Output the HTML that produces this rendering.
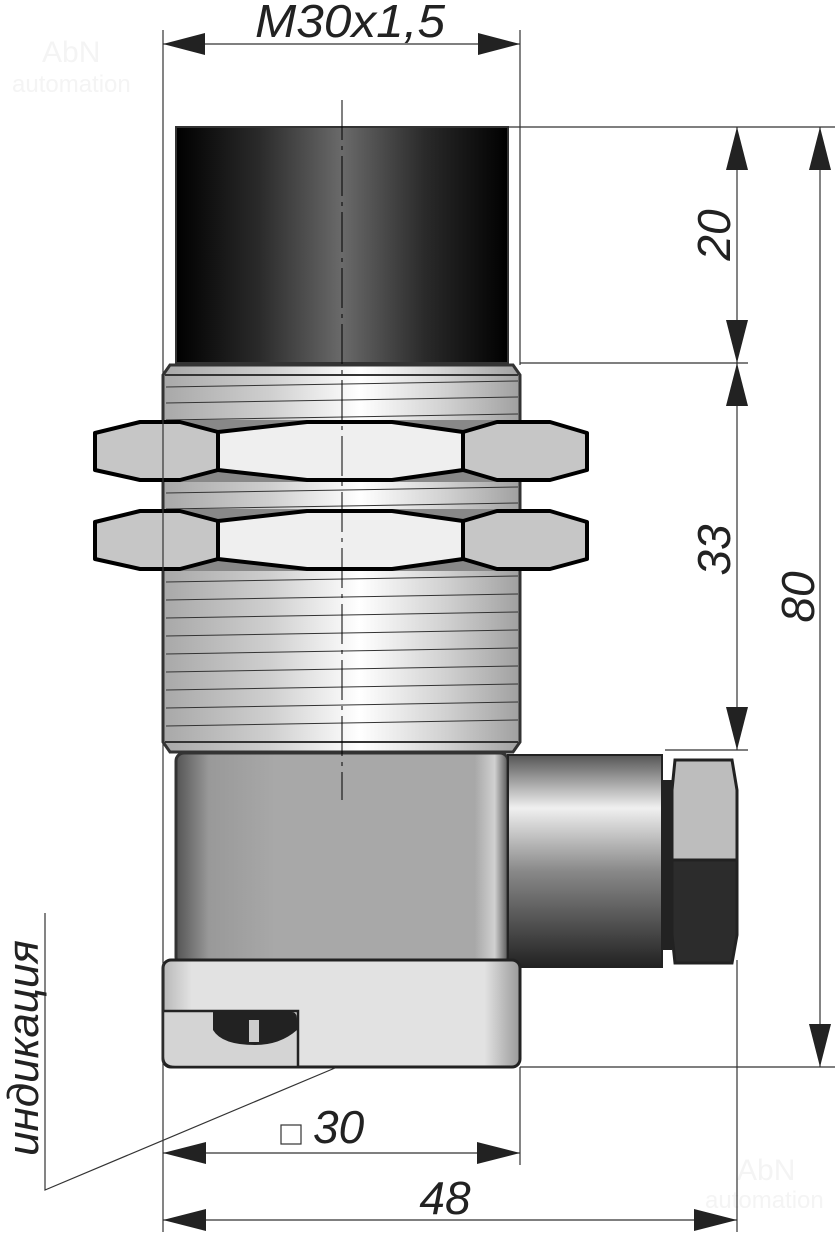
<!DOCTYPE html>
<html><head><meta charset="utf-8"><style>
html,body{margin:0;padding:0;background:#fff;}
svg{display:block;}
text{font-family:"Liberation Sans",sans-serif;font-style:italic;}
</style></head><body>
<svg width="837" height="1236" viewBox="0 0 837 1236" xmlns="http://www.w3.org/2000/svg">
<defs>
<linearGradient id="cap" x1="0" x2="1" y1="0" y2="0">
<stop offset="0" stop-color="#000"/><stop offset="0.25" stop-color="#2a2a2a"/><stop offset="0.5" stop-color="#6a6a6a"/><stop offset="0.75" stop-color="#2a2a2a"/><stop offset="1" stop-color="#000"/></linearGradient>
<linearGradient id="thr" x1="0" x2="1" y1="0" y2="0">
<stop offset="0" stop-color="#a8a8a8"/><stop offset="0.3" stop-color="#cfcfcf"/><stop offset="0.55" stop-color="#ffffff"/><stop offset="0.8" stop-color="#cfcfcf"/><stop offset="1" stop-color="#a0a0a0"/></linearGradient>
<linearGradient id="hous" x1="0" x2="1" y1="0" y2="0">
<stop offset="0" stop-color="#555"/><stop offset="0.1" stop-color="#999"/><stop offset="0.3" stop-color="#a8a8a8"/><stop offset="0.9" stop-color="#a8a8a8"/><stop offset="0.96" stop-color="#d0d0d0"/><stop offset="1" stop-color="#555"/></linearGradient>
<linearGradient id="base" x1="0" x2="1" y1="0" y2="0">
<stop offset="0" stop-color="#b8b8b8"/><stop offset="0.08" stop-color="#e2e2e2"/><stop offset="0.9" stop-color="#e2e2e2"/><stop offset="1" stop-color="#9a9a9a"/></linearGradient>
<linearGradient id="conn" x1="0" x2="0" y1="0" y2="1">
<stop offset="0" stop-color="#555"/><stop offset="0.25" stop-color="#f0f0f0"/><stop offset="0.55" stop-color="#888"/><stop offset="1" stop-color="#222"/></linearGradient>
</defs>
<text x="42" y="62" font-size="30" fill="#f4f4f4" style="font-style:normal">AbN</text>
<text x="12" y="92" font-size="24" fill="#f4f4f4" style="font-style:normal">automation</text>
<text x="737" y="1180" font-size="30" fill="#f4f4f4" style="font-style:normal">AbN</text>
<text x="705" y="1208" font-size="24" fill="#f4f4f4" style="font-style:normal">automation</text>

<rect x="176" y="127" width="332" height="236" fill="url(#cap)" stroke="#333" stroke-width="2"/>
<polygon points="170,365 513,365 520,375 520,742 513,752 170,752 163,742 163,375" fill="url(#thr)" stroke="#333" stroke-width="3"/>
<line x1="165" y1="375" x2="518" y2="375" stroke="#333" stroke-width="2"/>
<line x1="165" y1="742" x2="518" y2="742" stroke="#333" stroke-width="2"/>
<g stroke="#333" stroke-width="1">
<line x1="166" y1="387" x2="518" y2="381"/><line x1="166" y1="403" x2="518" y2="397"/><line x1="166" y1="420" x2="518" y2="414"/>
<line x1="166" y1="493" x2="518" y2="487"/><line x1="166" y1="509" x2="518" y2="503"/>
<line x1="166" y1="582" x2="518" y2="576"/><line x1="166" y1="600" x2="518" y2="594"/><line x1="166" y1="618" x2="518" y2="612"/>
<line x1="166" y1="636" x2="518" y2="630"/><line x1="166" y1="654" x2="518" y2="648"/><line x1="166" y1="672" x2="518" y2="666"/>
<line x1="166" y1="690" x2="518" y2="684"/><line x1="166" y1="708" x2="518" y2="702"/><line x1="166" y1="726" x2="518" y2="720"/>
</g>
<g id="nut">
<rect x="180" y="420" width="320" height="62" fill="#888"/>
<polygon points="95,433 140,422 180,422 218,432 218,470 180,480 140,480 95,470" fill="#c6c6c6" stroke="#000" stroke-width="4" stroke-linejoin="round"/>
<polygon points="218,432 307,422 392,422 463,432 463,470 392,480 307,480 218,470" fill="#efefef" stroke="#000" stroke-width="4" stroke-linejoin="round"/>
<polygon points="463,432 497,422 550,422 587,433 587,470 550,480 497,480 463,470" fill="#c6c6c6" stroke="#000" stroke-width="4" stroke-linejoin="round"/>
</g>
<use href="#nut" transform="translate(0,89)"/>
<rect x="176" y="753" width="332" height="212" rx="8" fill="url(#hous)" stroke="#333" stroke-width="3"/>
<rect x="508" y="755" width="154" height="212" fill="url(#conn)" stroke="#222" stroke-width="2"/>
<rect x="662" y="780" width="10" height="170" fill="#222"/>
<polygon points="675,760 732,760 737,790 737,860 672,860 672,790" fill="#bdbdbd" stroke="#222" stroke-width="3"/>
<polygon points="672,860 737,860 737,935 732,963 675,963 672,935" fill="#2c2c2c" stroke="#222" stroke-width="3"/>
<rect x="163" y="960" width="357" height="107" rx="8" fill="url(#base)" stroke="#222" stroke-width="3"/>
<path d="M163,1011 L298,1011 L298,1067 L175,1067 Q163,1067 163,1057 Z" fill="#d4d4d4" stroke="#222" stroke-width="2.5"/>
<path d="M213,1012 L292,1012 Q297,1012 297,1020 L297,1030 Q280,1045 255,1045 Q222,1045 213,1030 Z" fill="#222"/>
<rect x="249" y="1020" width="10" height="22" fill="#ccc"/>

<line x1="342" y1="100" x2="342" y2="800" stroke="#000" stroke-width="1" stroke-dasharray="40,6,4,6"/>

<g stroke="#333" stroke-width="1.2" fill="none">
<line x1="163" y1="30" x2="163" y2="1232"/>
<line x1="520" y1="30" x2="520" y2="365"/>
<line x1="520" y1="1067" x2="520" y2="1165"/>
<line x1="737" y1="960" x2="737" y2="1232"/>
<line x1="163" y1="44" x2="520" y2="44"/>
<line x1="508" y1="127" x2="835" y2="127"/>
<line x1="520" y1="363" x2="748" y2="363"/>
<line x1="665" y1="750" x2="748" y2="750"/>
<line x1="520" y1="1067" x2="835" y2="1067"/>
<line x1="737" y1="127" x2="737" y2="750"/>
<line x1="820" y1="127" x2="820" y2="1067"/>
<line x1="163" y1="1153" x2="520" y2="1153"/>
<line x1="163" y1="1220" x2="737" y2="1220"/>
<polyline points="45,913 45,1190 335,1068"/>
</g>
<g fill="#222">
<polygon points="163,44 205,33 205,55"/><polygon points="520,44 478,33 478,55"/>
<polygon points="737,127 726,170 748,170"/><polygon points="737,363 726,320 748,320"/>
<polygon points="737,363 726,406 748,406"/><polygon points="737,750 726,707 748,707"/>
<polygon points="820,127 809,170 831,170"/><polygon points="820,1067 809,1024 831,1024"/>
<polygon points="163,1153 206,1142 206,1164"/><polygon points="520,1153 477,1142 477,1164"/>
<polygon points="163,1220 206,1209 206,1231"/><polygon points="737,1220 694,1209 694,1231"/>
</g>
<text x="350" y="37" font-size="46" text-anchor="middle" fill="#222" textLength="190" lengthAdjust="spacingAndGlyphs">M30x1,5</text>
<text transform="translate(730,235) rotate(-90)" font-size="46" text-anchor="middle" fill="#222">20</text>
<text transform="translate(730,550) rotate(-90)" font-size="46" text-anchor="middle" fill="#222">33</text>
<text transform="translate(814,597) rotate(-90)" font-size="46" text-anchor="middle" fill="#222">80</text>
<rect x="281" y="1125" width="20" height="19" fill="#fff" stroke="#333" stroke-width="1.2"/>
<text x="313" y="1143" font-size="46" fill="#222">30</text>
<text x="445" y="1214" font-size="46" text-anchor="middle" fill="#222">48</text>
<text transform="translate(38,1048) rotate(-90)" font-size="44" text-anchor="middle" fill="#222">индикация</text>
</svg>
</body></html>
